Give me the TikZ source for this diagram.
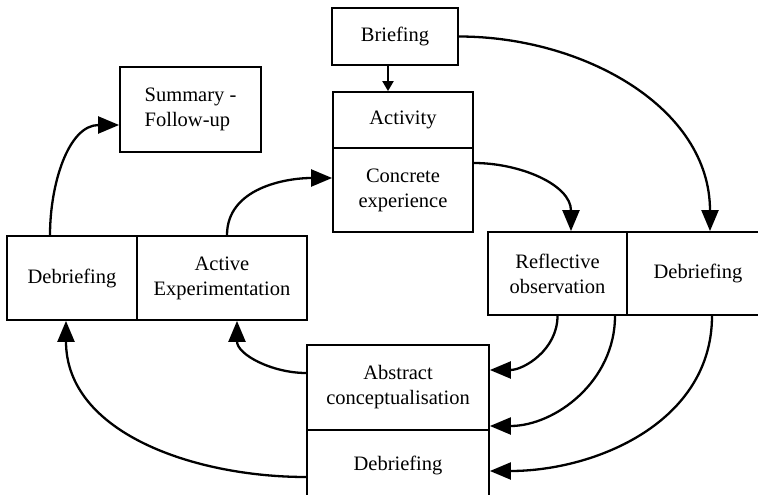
\documentclass[tikz,border=0pt]{standalone}
\usepackage{fontspec}
\setmainfont{Liberation Serif}
\usetikzlibrary{arrows.meta}

\tikzset{
  box/.style={draw, line width=1.8pt, align=center, inner sep=0pt,
    font=\fontsize{20.5pt}{25pt}\selectfont},
  flow/.style={line width=2.3pt, -{Triangle[length=21pt,width=17pt]}},
}

\begin{document}
\begin{tikzpicture}[x=1pt, y=-1pt]
\useasboundingbox (0,0) rectangle (758,495);
\clip (0,0) rectangle (758,495);
% boxes
\node [box, minimum width=126pt, minimum height=57pt] (brief) at (395,36.5) {Briefing};
\node [box, minimum width=140pt, minimum height=56pt] (act) at (403,120) {Activity};
\node [box, minimum width=140pt, minimum height=84pt] (conc) at (403,190) {Concrete\\experience};
\node [box, align=left, minimum width=141pt, minimum height=85pt] (summ) at (190.5,109.5) {Summary -\\Follow-up};
\node [box, minimum width=130pt, minimum height=84pt] (ldeb) at (72,278) {Debriefing};
\node [box, minimum width=170pt, minimum height=84pt] (actexp) at (222,278) {Active\\Experimentation};
\node [box, minimum width=139pt, minimum height=83pt] (refl) at (557.5,273.5) {Reflective\\observation};
\node [box, minimum width=142pt, minimum height=83pt] (rdeb) at (698,273.5) {Debriefing};
\node [box, minimum width=182pt, minimum height=85pt] (abs) at (398,387.5) {Abstract\\conceptualisation};
\node [box, minimum width=182pt, minimum height=70pt] (bdeb) at (398,465) {Debriefing};
% arrows
\draw [line width=2pt, -{Triangle[length=10pt,width=11pt]}] ([xshift=-7pt]brief.south) -- ([xshift=-15pt]act.north);
\draw [flow] (brief.east) to [out=0, in=90] ([xshift=12pt]rdeb.north);
\draw [flow] ([yshift=27pt]conc.east) to [out=0, in=90] ([xshift=13.5pt]refl.north);
\draw [flow] ([xshift=5pt]actexp.north) to [out=90, in=180] ([yshift=12pt]conc.west);
\draw [flow] ([xshift=-22pt]ldeb.north) to [out=90, in=180] ([yshift=-15.5pt]summ.west);
\draw [flow] ([yshift=14.5pt]abs.west) to [out=180, in=-90] ([xshift=15pt]actexp.south);
\draw [flow] ([yshift=-12pt]bdeb.west) to [out=180, in=-90] ([xshift=-6pt]ldeb.south);
\draw [flow] (refl.south) to [out=-90, in=0] ([yshift=17.5pt]abs.east);
\draw [flow] ([xshift=57.5pt]refl.south) to [out=-90, in=0] ([yshift=-38.5pt]abs.east);
\draw [flow] ([xshift=14pt]rdeb.south) to [out=-90, in=0] ([yshift=-6pt]bdeb.east);
\end{tikzpicture}
\end{document}
